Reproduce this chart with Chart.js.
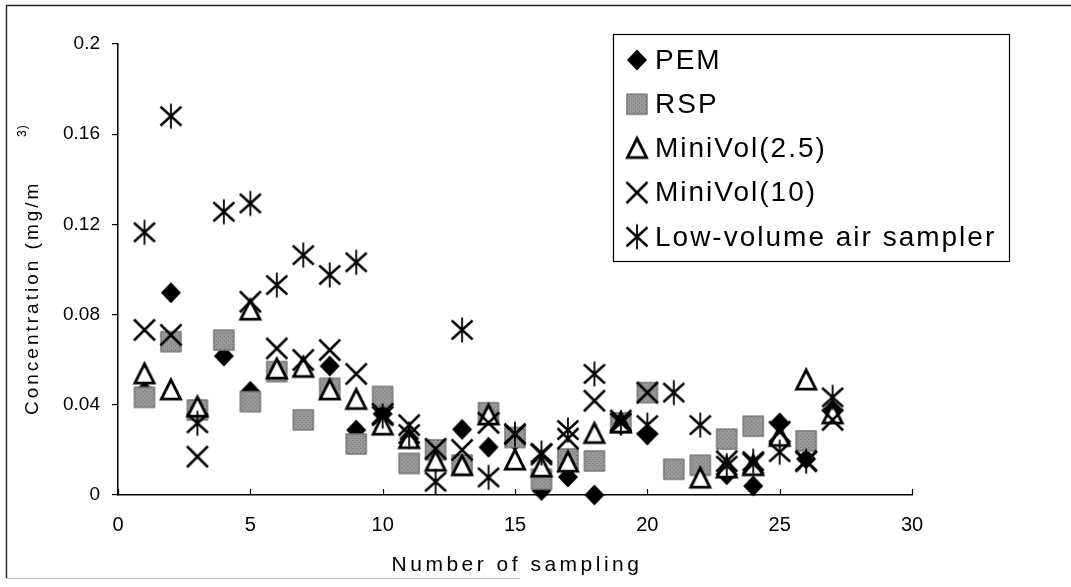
<!DOCTYPE html>
<html><head><meta charset="utf-8">
<script src="https://cdn.jsdelivr.net/npm/chart.js@4.4.1/dist/chart.umd.min.js"></script>
<style>html,body{margin:0;padding:0;background:#fff;}#wrap{width:1071px;height:587px;position:relative;}</style>
</head><body><div id="wrap"><canvas id="c" width="1071" height="587"></canvas></div>
<script>
// ---- data ----
const samplingNo = [1,2,3,4,5,6,7,8,9,10,11,12,13,14,15,16,17,18,19,20,21,22,23,24,25,26,27];
const pemValues      = [0.046,0.0897,0.037,0.0616,0.046,0.055,null,0.0572,0.0288,0.036,0.025,0.019,0.0291,0.0212,0.024,0.002,0.008,0.0,0.031,0.0266,null,null,0.009,0.004,0.032,0.016,0.038];
const rspValues      = [0.0433,0.068,0.0377,0.0687,0.0414,0.0547,0.0333,0.0473,0.0226,0.0437,0.014,0.020,0.0133,0.0365,0.0255,0.007,0.016,0.0151,0.032,0.0454,0.0114,0.0132,0.0248,0.0305,null,0.024,null];
const miniVol25      = [0.0537,0.0466,0.039,null,0.082,0.0559,0.0566,0.0466,0.0424,0.031,0.025,0.015,0.013,0.0355,0.0155,0.0124,0.0146,0.0273,0.032,null,null,0.0075,0.012,0.013,0.026,0.051,0.036];
const miniVol10      = [0.0732,0.071,0.017,null,0.0857,0.065,0.0599,0.0643,0.0537,0.036,0.031,0.0205,0.020,0.032,0.027,0.018,0.025,0.0418,0.033,0.0454,null,null,0.015,0.014,0.028,0.015,0.0333];
const lowVolume      = [0.1165,0.168,0.0318,0.1256,0.1293,0.0931,0.1064,0.0976,0.1032,0.035,0.027,0.0059,0.0732,0.0078,0.027,0.0186,0.0288,0.0537,0.032,0.031,0.0454,0.031,0.013,0.015,0.019,0.015,0.0433];
const seriesNames    = ['PEM','RSP','MiniVol(2.5)','MiniVol(10)','Low-volume air sampler'];
const xTickValues    = [0,5,10,15,20,25,30];
const yTickLabels    = ['0','0.04','0.08','0.12','0.16','0.2'];
const xTitle = 'Number of sampling';
const yTitleMain = 'Concentration (mg/m';
const yTitleSup = '3';
const yTitleEnd = ')';

// ---- marker images ----
function marker(kind){
  const c = document.createElement('canvas'); c.width = 28; c.height = 28;
  const g = c.getContext('2d'); g.translate(14,14);
  g.strokeStyle = '#000'; g.fillStyle = '#000'; g.lineCap = 'butt';
  if (kind === 'diamond'){
    g.beginPath(); g.moveTo(0,-10.5); g.lineTo(10,0); g.lineTo(0,10.5); g.lineTo(-10,0); g.closePath(); g.fill();
  } else if (kind === 'square'){
    g.fillStyle = '#9a9a9a'; g.fillRect(-10.5,-10.5,21,21);
    g.fillStyle = 'rgba(60,60,60,0.45)';
    for (let i=-10;i<10;i+=2) for (let j=-10;j<10;j+=2) if (((i+j)/2)%2===0) g.fillRect(i,j,1,1);
    g.strokeStyle = '#666'; g.lineWidth = 1; g.strokeRect(-10,-10,20,20);
  } else if (kind === 'triangle'){
    g.fillStyle = '#fff'; g.lineWidth = 2.8; g.lineJoin = 'miter';
    g.beginPath(); g.moveTo(0,-10); g.lineTo(9.6,9.2); g.lineTo(-9.6,9.2); g.closePath(); g.fill(); g.stroke();
  } else if (kind === 'cross'){
    g.lineWidth = 2.5; g.beginPath();
    g.moveTo(-10.5,-10.5); g.lineTo(10.5,10.5); g.moveTo(10.5,-10.5); g.lineTo(-10.5,10.5); g.stroke();
  } else if (kind === 'asterisk'){
    g.lineWidth = 2.4; g.beginPath();
    g.moveTo(-10.5,-9.5); g.lineTo(10.5,9.5); g.moveTo(10.5,-9.5); g.lineTo(-10.5,9.5); g.stroke();
    g.lineWidth = 1.8; g.beginPath(); g.moveTo(0,-12.5); g.lineTo(0,12.5); g.stroke();
  }
  return c;
}
const markerKinds = ['diamond','square','triangle','cross','asterisk'];
const markers = markerKinds.map(marker);
const valueSets = [pemValues, rspValues, miniVol25, miniVol10, lowVolume];
function toPoints(vals){ const out=[]; vals.forEach((v,i)=>{ if (v!==null) out.push({x:samplingNo[i], y:v}); }); return out; }

const datasets = valueSets.map((vals,k)=>({
  label: seriesNames[k], data: toPoints(vals), pointStyle: markers[k], pointRadius: 10,
  showLine: false, clip: false, order: 5-k, borderColor:'#000', backgroundColor:'#000'
}));

const decor = {
  id: 'decor',
  beforeDraw(chart){
    const ctx = chart.ctx; ctx.save();
    ctx.fillStyle = '#fff'; ctx.fillRect(0,0,chart.width,chart.height);
    ctx.strokeStyle = '#222'; ctx.lineWidth = 1.4;
    ctx.beginPath(); ctx.moveTo(6.5,578); ctx.lineTo(6.5,5.5); ctx.lineTo(1071,5.5); ctx.stroke();
    ctx.strokeStyle = '#bbb'; ctx.lineWidth = 1; ctx.beginPath(); ctx.moveTo(6,578.5); ctx.lineTo(520,578.5); ctx.stroke();
    ctx.restore();
  },
  afterDraw(chart){
    const ctx = chart.ctx, xs = chart.scales.x, a = chart.chartArea;
    ctx.save();
    // inward x tick marks
    ctx.strokeStyle = '#000'; ctx.lineWidth = 1.2;
    xTickValues.forEach(v=>{ const px = Math.round(xs.getPixelForValue(v))+0.5; ctx.beginPath(); ctx.moveTo(px,a.bottom); ctx.lineTo(px,a.bottom-6); ctx.stroke(); });
    // x title
    ctx.fillStyle = '#000'; ctx.font = '21px "Liberation Sans", Arial, sans-serif';
    ctx.letterSpacing = '3.5px'; ctx.textAlign = 'center'; ctx.textBaseline = 'middle';
    ctx.fillText(xTitle, (a.left+a.right)/2 + 2, 565);
    // y title (rotated)
    ctx.save(); ctx.translate(33, 415); ctx.rotate(-Math.PI/2);
    ctx.textAlign = 'left'; ctx.letterSpacing = '3px'; ctx.font = '19px "Liberation Sans", Arial, sans-serif';
    ctx.fillText(yTitleMain, 0, 0);
    ctx.letterSpacing = '1px'; ctx.font = '12px "Liberation Sans", Arial, sans-serif';
    ctx.fillText(yTitleSup + yTitleEnd, 278, -10);
    ctx.restore();
    // legend
    const L = {x:613, y:34, w:396, h:227};
    ctx.fillStyle = '#fff'; ctx.fillRect(L.x, L.y, L.w, L.h);
    ctx.strokeStyle = '#000'; ctx.lineWidth = 1.2; ctx.strokeRect(L.x+0.5, L.y+0.5, L.w, L.h);
    ctx.letterSpacing = '2px'; ctx.font = '28px "Liberation Sans", Arial, sans-serif';
    ctx.textAlign = 'left'; ctx.textBaseline = 'middle'; ctx.fillStyle = '#000';
    chart.data.datasets.forEach((ds,i)=>{
      const cy = L.y + 26 + i*44.2;
      const img = ds.pointStyle; ctx.drawImage(img, 637 - img.width/2, cy - img.height/2);
      ctx.fillText(ds.label, 655, cy + 1);
    });
    ctx.restore();
  }
};

new Chart(document.getElementById('c'), {
  type: 'scatter',
  data: { datasets },
  options: {
    responsive: false, animation: false, devicePixelRatio: 1,
    layout: { padding: { left: 0, right: 159, top: 44, bottom: 0 } },
    plugins: { legend: { display: false }, tooltip: { enabled: false } },
    scales: {
      x: {
        type: 'linear', min: 0, max: 30,
        afterBuildTicks(s){ s.ticks = xTickValues.map(v=>({value:v})); },
        afterFit(s){ s.height = 92; },
        grid: { display: false, drawTicks: false },
        border: { display: true, color: '#000', width: 1.5 },
        ticks: { color: '#000', padding: 18, maxRotation: 0, font: { family: '"Liberation Sans", Arial, sans-serif', size: 20 } },
        title: { display: false }
      },
      y: {
        type: 'linear', min: 0, max: 0.2,
        afterBuildTicks(s){ s.ticks = yTickLabels.map(t=>({value: parseFloat(t)})); },
        afterFit(s){ s.width = 118; },
        grid: { display: true, drawOnChartArea: false, drawTicks: true, tickLength: 6, color: '#000', lineWidth: 1.2 },
        border: { display: true, color: '#000', width: 1.5 },
        ticks: { color: '#000', padding: 12, font: { family: '"Liberation Sans", Arial, sans-serif', size: 19 },
          callback(v, i){ return yTickLabels[i]; } },
        title: { display: false }
      }
    }
  },
  plugins: [decor]
});
</script></body></html>
